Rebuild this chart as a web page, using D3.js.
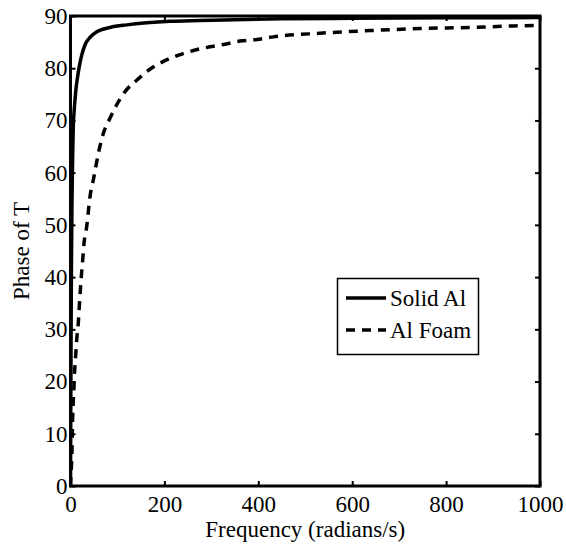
<!DOCTYPE html>
<html>
<head>
<meta charset="utf-8">
<script src="https://cdn.jsdelivr.net/npm/d3@7"></script>
<style>
  html, body { margin: 0; padding: 0; background: #fff; }
  text { font-family: "Liberation Serif", "Times New Roman", serif; fill: #000; }
</style>
</head>
<body>
<svg id="chart" width="566" height="546"></svg>
<script>
// ---- Data ----
const solidFreq  = [0, 0.5, 1, 1.5, 2, 3, 4, 5, 6, 7.5, 9.6, 12, 14.5, 18.7, 23.9, 31, 41.5, 56, 84, 120, 162, 212, 276, 350, 450, 600, 800, 1000];
const solidPhase = [0, 12, 24, 34, 42, 53, 60, 65, 69, 71.5, 74, 76.3, 78, 80.3, 82.5, 84.5, 85.9, 87, 87.8, 88.3, 88.7, 89.0, 89.15, 89.3, 89.45, 89.55, 89.65, 89.7];

const foamFreq  = [0, 1.5, 3.2, 3.8, 4.7, 6, 7.5, 8.9, 11.1, 13.2, 16.6, 18.7, 23, 26, 28.8, 34.5, 41.5, 48.6, 61.3, 69.9, 84, 98.4, 116, 141, 169, 198, 230, 262, 297, 329, 361, 397, 432, 531, 638, 744, 851, 943, 1000];
const foamPhase = [0, 3, 6.9, 10.1, 13.3, 16.5, 19, 22.2, 25.1, 28, 31.2, 34.3, 40.1, 43.3, 46.5, 49.7, 55.4, 58.6, 64.5, 67.5, 70.4, 73, 75.5, 77.7, 79.8, 81.3, 82.5, 83.4, 84.1, 84.6, 85.2, 85.5, 86, 86.7, 87.2, 87.6, 87.8, 88.1, 88.2];

const xTicks = [0, 200, 400, 600, 800, 1000];
const yTicks = [0, 10, 20, 30, 40, 50, 60, 70, 80, 90];
const seriesNames = ["Solid Al", "Al Foam"];
const xTitle = "Frequency (radians/s)";
const yTitle = "Phase of T";

// ---- Layout ----
const L = 70.5, R = 540, T = 16, B = 486;
const svg = d3.select("#chart");
const x = d3.scaleLinear().domain([0, 1000]).range([L, R]);
const y = d3.scaleLinear().domain([0, 90]).range([B, T]);
const FS = 23;

svg.append("clipPath").attr("id", "clip")
  .append("rect").attr("x", L).attr("y", T).attr("width", R - L).attr("height", B - T);

const line = d3.line().x(d => x(d[0])).y(d => y(d[1])).curve(d3.curveMonotoneX);
const solidData = solidFreq.map((f, i) => [f, solidPhase[i]]);
const foamData = foamFreq.map((f, i) => [f, foamPhase[i]]);

const g = svg.append("g").attr("clip-path", "url(#clip)");
g.append("path").datum(foamData).attr("d", line)
  .attr("fill", "none").attr("stroke", "#000").attr("stroke-width", 3.5)
  .attr("stroke-dasharray", "9,7");
g.append("path").datum(solidData).attr("d", line)
  .attr("fill", "none").attr("stroke", "#000").attr("stroke-width", 3.5);

// ---- Axes (inward ticks, mirrored) ----
const tickLen = 5;
const axB = svg.append("g").attr("transform", `translate(0,${B})`)
  .call(d3.axisBottom(x).tickValues(xTicks).tickSize(-tickLen).tickPadding(10).tickFormat(d3.format("d")));
const axT = svg.append("g").attr("transform", `translate(0,${T})`)
  .call(d3.axisTop(x).tickValues(xTicks).tickSize(-tickLen).tickFormat(""));
const axL = svg.append("g").attr("transform", `translate(${L},0)`)
  .call(d3.axisLeft(y).tickValues(yTicks).tickSize(-tickLen).tickPadding(3).tickFormat(d3.format("d")));
const axR = svg.append("g").attr("transform", `translate(${R},0)`)
  .call(d3.axisRight(y).tickValues(yTicks).tickSize(-tickLen).tickFormat(""));

[axB, axT, axL, axR].forEach(a => {
  a.select(".domain").remove();
  a.selectAll(".tick line").attr("stroke", "#000").attr("stroke-width", 2);
  a.selectAll("text").style("font-family", '"Liberation Serif", serif').style("font-size", FS + "px").attr("fill", "#000");
});

// frame
svg.append("rect").attr("x", L).attr("y", T).attr("width", R - L).attr("height", B - T)
  .attr("fill", "none").attr("stroke", "#000").attr("stroke-width", 3);

// ---- Titles ----
svg.append("text").attr("x", (L + R) / 2).attr("y", 537).attr("text-anchor", "middle")
  .style("font-size", FS + "px").text(xTitle);
svg.append("text").attr("transform", `translate(29,${(T + B) / 2}) rotate(-90)`)
  .attr("text-anchor", "middle").style("font-size", FS + "px").text(yTitle);

// ---- Legend ----
const lg = svg.append("g");
lg.append("rect").attr("x", 337.5).attr("y", 278.5).attr("width", 141).attr("height", 76)
  .attr("fill", "#fff").attr("stroke", "#000").attr("stroke-width", 1.5);
const legY = [298, 330];
seriesNames.forEach((name, i) => {
  lg.append("line").attr("x1", 346).attr("x2", 386).attr("y1", legY[i]).attr("y2", legY[i])
    .attr("stroke", "#000").attr("stroke-width", 3.5)
    .attr("stroke-dasharray", i === 1 ? "9,7" : null);
  lg.append("text").attr("x", 390).attr("y", legY[i] + 8).style("font-size", FS + "px").text(name);
});
</script>
</body>
</html>
